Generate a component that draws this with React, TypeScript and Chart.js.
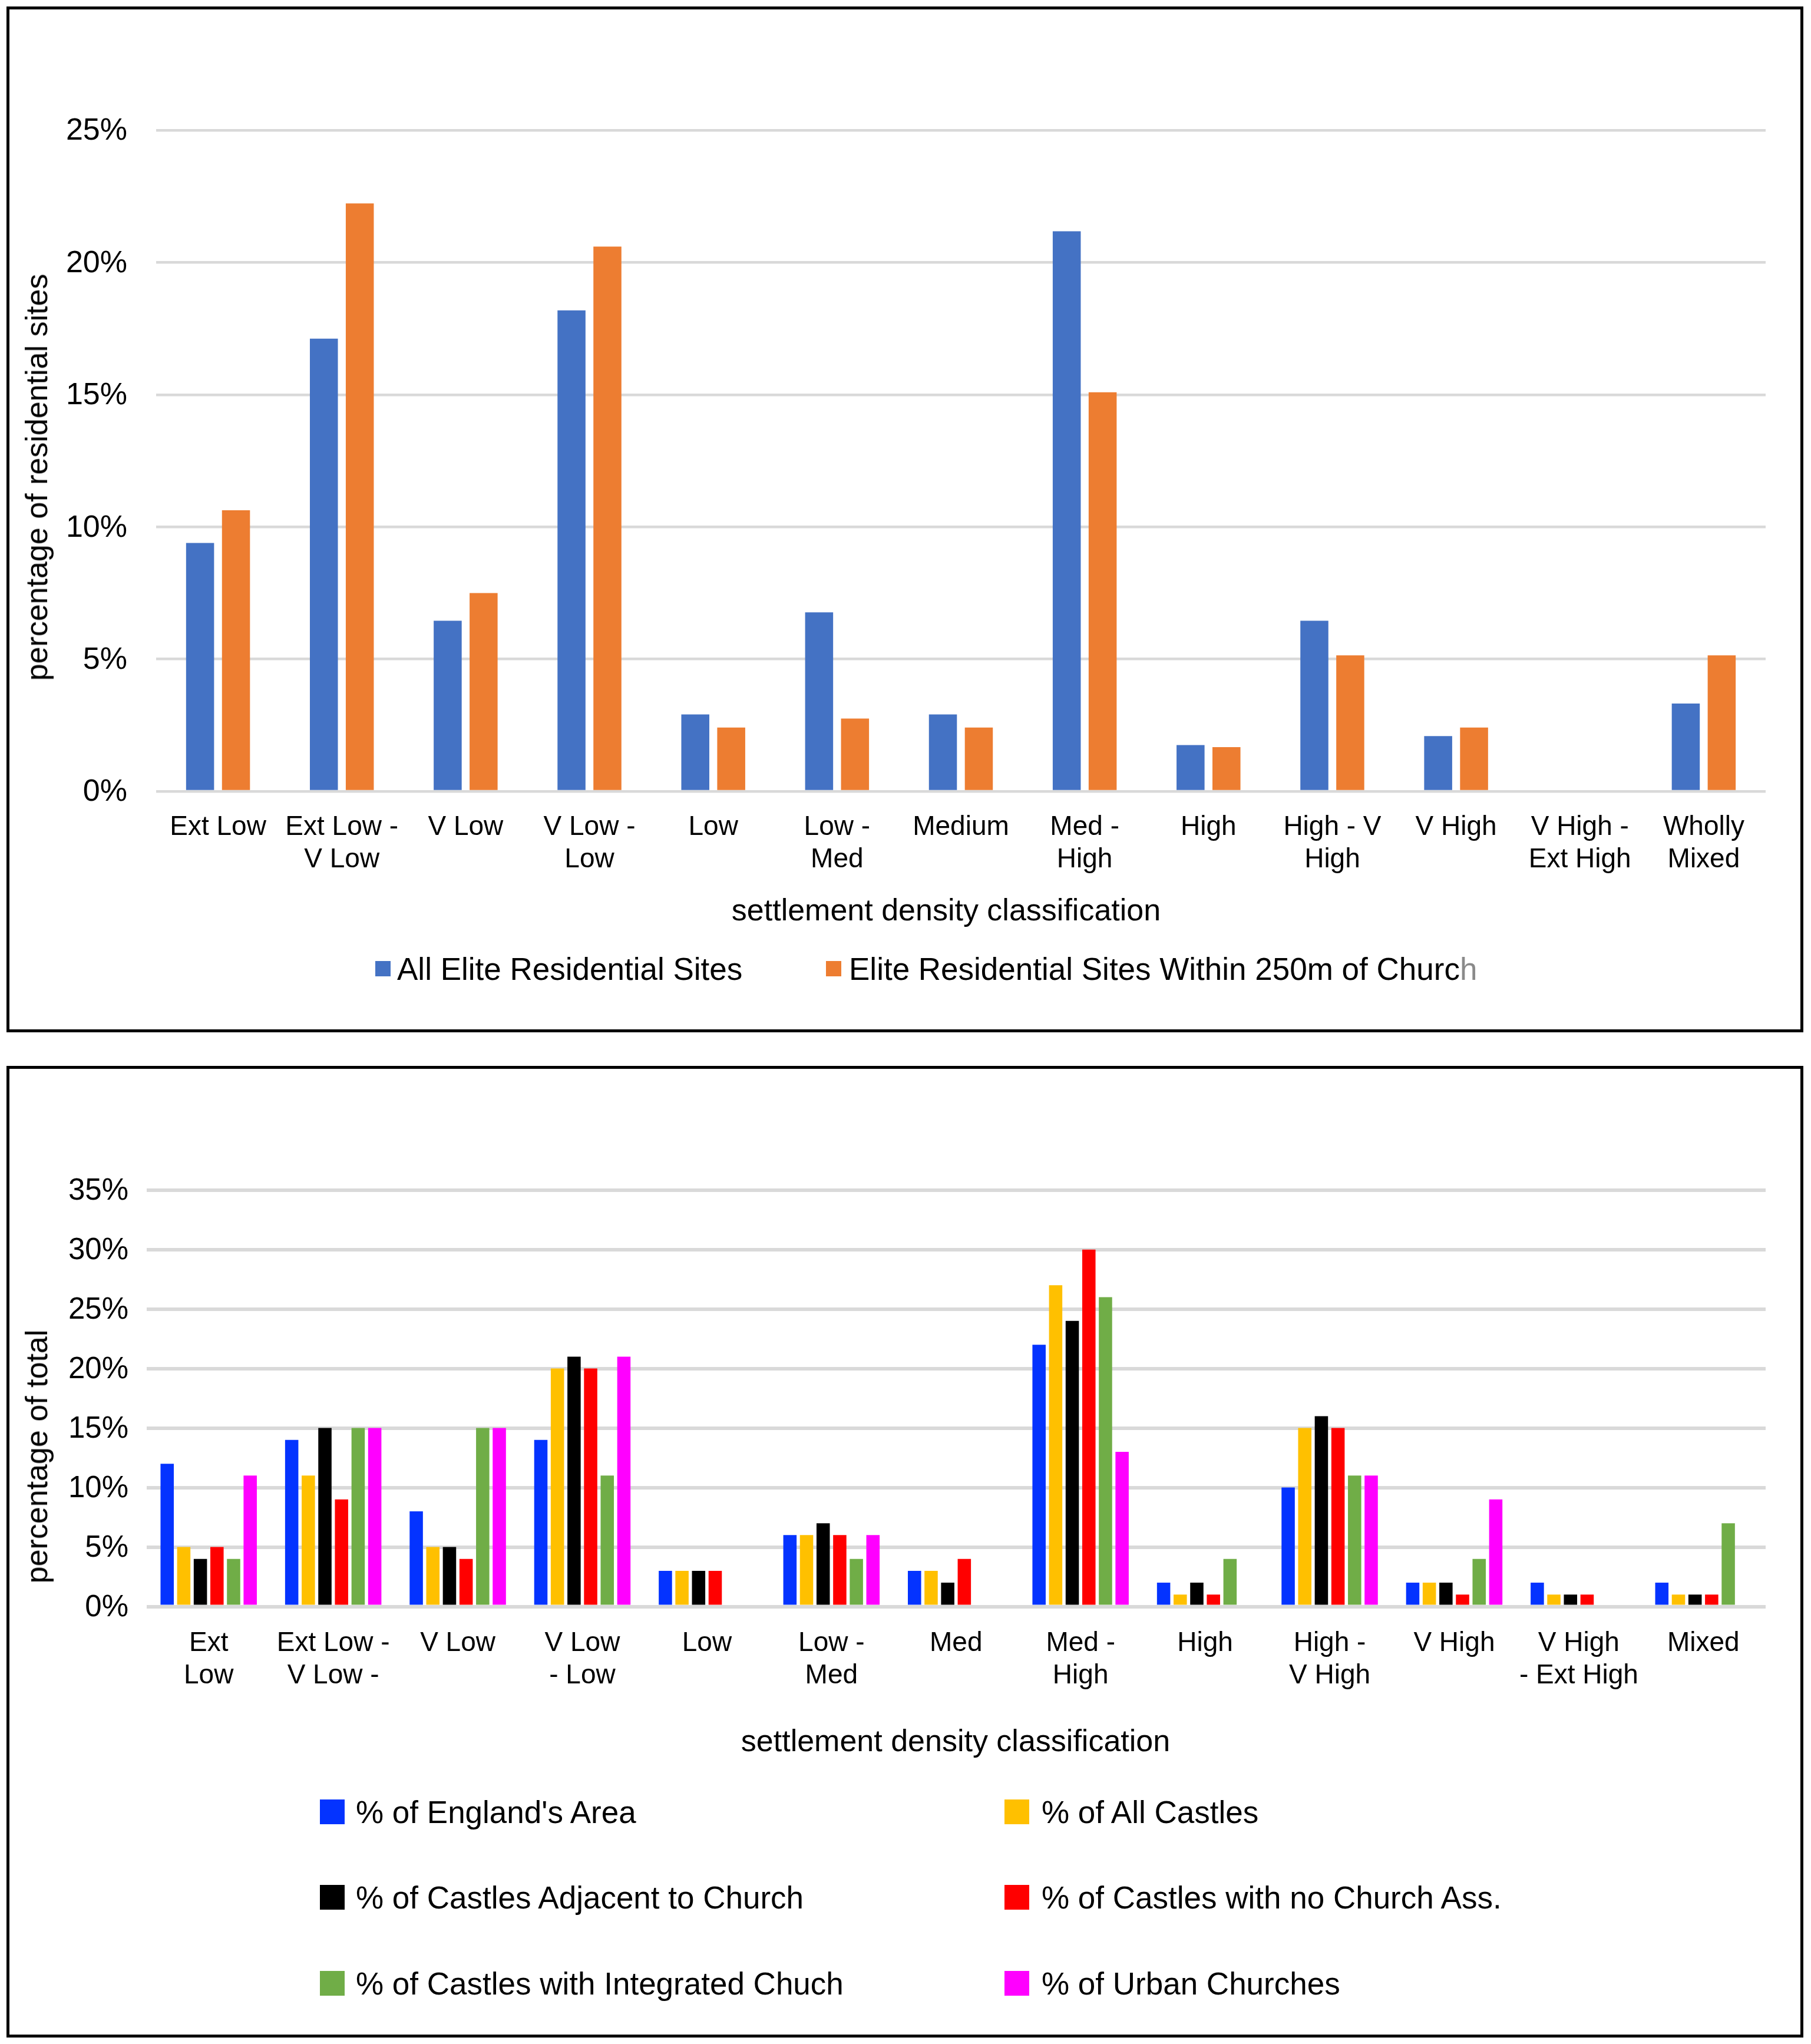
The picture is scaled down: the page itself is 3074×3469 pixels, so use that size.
import React, { useEffect, useRef } from "react";
import { Chart, registerables } from "chart.js";

Chart.register(...registerables);

const FONT = '"Liberation Sans", Arial, Helvetica, sans-serif';

// ---------- Top chart data ----------
const topCategories: (string | string[])[] = [
  "Ext Low",
  ["Ext Low -", "V Low"],
  "V Low",
  ["V Low -", "Low"],
  "Low",
  ["Low -", "Med"],
  "Medium",
  ["Med -", "High"],
  "High",
  ["High - V", "High"],
  "V High",
  ["V High -", "Ext High"],
  ["Wholly", "Mixed"],
];
const topSeriesNames = [
  "All Elite Residential Sites",
  "Elite Residential Sites Within 250m of Church",
];
const topColors = ["#4472C4", "#ED7D31"];
const allEliteSites = [9.39, 17.12, 6.45, 18.19, 2.91, 6.77, 2.91, 21.18, 1.75, 6.45, 2.09, 0, 3.32];
const eliteNearChurch = [10.63, 22.23, 7.5, 20.6, 2.41, 2.75, 2.41, 15.09, 1.67, 5.14, 2.41, 0, 5.14];
const topAxisMax = 25;
const topAxisStep = 5;

// ---------- Bottom chart data ----------
const bottomCategories: (string | string[])[] = [
  ["Ext", "Low"],
  ["Ext Low -", "V Low -"],
  "V Low",
  ["V Low", "- Low"],
  "Low",
  ["Low -", "Med"],
  "Med",
  ["Med -", "High"],
  "High",
  ["High -", "V High"],
  "V High",
  ["V High", "- Ext High"],
  "Mixed",
];
const bottomSeriesNames = [
  "% of England's Area",
  "% of All Castles",
  "% of Castles Adjacent to Church",
  "% of Castles with no Church Ass.",
  "% of Castles with Integrated Chuch",
  "% of Urban Churches",
];
const bottomColors = ["#0433FF", "#FFC000", "#000000", "#FF0000", "#70AD47", "#FF00FF"];
const englandArea = [12, 14, 8, 14, 3, 6, 3, 22, 2, 10, 2, 2, 2];
const allCastles = [5, 11, 5, 20, 3, 6, 3, 27, 1, 15, 2, 1, 1];
const castlesAdjacent = [4, 15, 5, 21, 3, 7, 2, 24, 2, 16, 2, 1, 1];
const castlesNoChurch = [5, 9, 4, 20, 3, 6, 4, 30, 1, 15, 1, 1, 1];
const castlesIntegrated = [4, 15, 15, 11, 0, 4, 0, 26, 4, 11, 4, 0, 7];
const urbanChurches = [11, 15, 15, 21, 0, 6, 0, 13, 0, 11, 9, 0, 0];
const bottomAxisMax = 35;
const bottomAxisStep = 5;

const topSeries = [allEliteSites, eliteNearChurch];
const bottomSeries = [
  englandArea,
  allCastles,
  castlesAdjacent,
  castlesNoChurch,
  castlesIntegrated,
  urbanChurches,
];

const pct = (v: any) => v + "%";

export default function App() {
  const topRef = useRef<HTMLCanvasElement>(null);
  const bottomRef = useRef<HTMLCanvasElement>(null);

  useEffect(() => {
    const c1 = new Chart(topRef.current as HTMLCanvasElement, {
      type: "bar",
      data: {
        labels: topCategories as any,
        datasets: topSeries.map((d, i) => ({
          label: topSeriesNames[i],
          data: d,
          backgroundColor: topColors[i],
          borderWidth: 0,
          categoryPercentage: 0.58,
          barPercentage: 0.78,
        })),
      },
      options: {
        responsive: false,
        animation: false,
        devicePixelRatio: 1,
        layout: { padding: { left: 0, right: 59, top: 205, bottom: 0 } },
        plugins: {
          legend: { display: false },
          tooltip: { enabled: false },
          title: { display: false },
        },
        scales: {
          x: {
            grid: { display: false },
            border: { display: false },
            ticks: {
              color: "#000",
              font: { family: FONT, size: 46, lineHeight: 1.2 },
              padding: 26,
              autoSkip: false,
              maxRotation: 0,
              minRotation: 0,
            },
            afterFit: (s: any) => {
              s.height = 404;
            },
          },
          y: {
            min: 0,
            max: topAxisMax,
            ticks: {
              stepSize: topAxisStep,
              color: "#000",
              font: { family: FONT, size: 52 },
              padding: 49,
              labelOffset: 2,
              callback: pct,
            },
            grid: { color: "#D9D9D9", lineWidth: 4.5, drawTicks: false },
            border: { display: false },
            afterFit: (s: any) => {
              s.width = 249;
            },
          },
        },
      } as any,
    });

    const c2 = new Chart(bottomRef.current as HTMLCanvasElement, {
      type: "bar",
      data: {
        labels: bottomCategories as any,
        datasets: bottomSeries.map((d, i) => ({
          label: bottomSeriesNames[i],
          data: d,
          backgroundColor: bottomColors[i],
          borderWidth: 0,
          categoryPercentage: 0.8,
          barPercentage: 0.8,
        })),
      },
      options: {
        responsive: false,
        animation: false,
        devicePixelRatio: 1,
        layout: { padding: { left: 0, right: 59, top: 205.7, bottom: 0 } },
        plugins: {
          legend: { display: false },
          tooltip: { enabled: false },
          title: { display: false },
        },
        scales: {
          x: {
            grid: { display: false },
            border: { display: false },
            ticks: {
              color: "#000",
              font: { family: FONT, size: 46, lineHeight: 1.18 },
              padding: 28,
              autoSkip: false,
              maxRotation: 0,
              minRotation: 0,
            },
            afterFit: (s: any) => {
              s.height = 726.5;
            },
          },
          y: {
            min: 0,
            max: bottomAxisMax,
            ticks: {
              stepSize: bottomAxisStep,
              color: "#000",
              font: { family: FONT, size: 51 },
              padding: 30.5,
              labelOffset: 2,
              callback: pct,
            },
            grid: { color: "#D9D9D9", lineWidth: 6, drawTicks: false },
            border: { display: false },
            afterFit: (s: any) => {
              s.width = 232.5;
            },
          },
        },
      } as any,
    });

    return () => {
      c1.destroy();
      c2.destroy();
    };
  }, []);

  const textBase: React.CSSProperties = {
    position: "absolute",
    fontFamily: FONT,
    color: "#000",
    whiteSpace: "nowrap",
  };

  const legendRows = [3075, 3220, 3366];
  const legendMarkerX = [543, 1705];
  const legendTextX = [604, 1768];

  return (
    <div
      style={{
        position: "absolute",
        left: 0,
        top: 0,
        width: 3074,
        height: 3469,
        background: "#fff",
        overflow: "hidden",
      }}
    >
      {/* Top box */}
      <div
        style={{
          position: "absolute",
          left: 11,
          top: 11,
          width: 3050,
          height: 1741,
          border: "5px solid #000",
          boxSizing: "border-box",
        }}
      />
      <canvas
        ref={topRef}
        width={3040}
        height={1731}
        style={{ position: "absolute", left: 16, top: 16, width: 3040, height: 1731 }}
      />
      {/* Top y title */}
      <div
        style={{
          ...textBase,
          left: 62,
          top: 810,
          fontSize: 52,
          lineHeight: "52px",
          transform: "translate(-50%, -50%) rotate(-90deg)",
        }}
      >
        percentage of residential sites
      </div>
      {/* Top x title */}
      <div
        style={{
          ...textBase,
          left: 1606,
          top: 1518,
          fontSize: 52,
          lineHeight: "52px",
          transform: "translateX(-50%)",
        }}
      >
        settlement density classification
      </div>
      {/* Top legend */}
      <div style={{ position: "absolute", left: 637, top: 1631, width: 26, height: 26, background: topColors[0] }} />
      <div style={{ ...textBase, left: 674, top: 1644 - 26.5, fontSize: 53, lineHeight: "53px" }}>
        {topSeriesNames[0]}
      </div>
      <div style={{ position: "absolute", left: 1402, top: 1631, width: 26, height: 26, background: topColors[1] }} />
      <div style={{ ...textBase, left: 1441, top: 1644 - 26.5, fontSize: 53, lineHeight: "53px" }}>
        {topSeriesNames[1].slice(0, -1)}
        <span style={{ color: "#8a8a8a" }}>{topSeriesNames[1].slice(-1)}</span>
      </div>

      {/* Bottom box */}
      <div
        style={{
          position: "absolute",
          left: 11,
          top: 1809,
          width: 3050,
          height: 1649,
          border: "5px solid #000",
          boxSizing: "border-box",
        }}
      />
      <canvas
        ref={bottomRef}
        width={3040}
        height={1639}
        style={{ position: "absolute", left: 16, top: 1814, width: 3040, height: 1639 }}
      />
      {/* Bottom y title */}
      <div
        style={{
          ...textBase,
          left: 62,
          top: 2472,
          fontSize: 52,
          lineHeight: "52px",
          transform: "translate(-50%, -50%) rotate(-90deg)",
        }}
      >
        percentage of total
      </div>
      {/* Bottom x title */}
      <div
        style={{
          ...textBase,
          left: 1622,
          top: 2928,
          fontSize: 52,
          lineHeight: "52px",
          transform: "translateX(-50%)",
        }}
      >
        settlement density classification
      </div>
      {/* Bottom legend: 3 rows x 2 columns */}
      {bottomSeriesNames.map((name, i) => {
        const row = Math.floor(i / 2);
        const col = i % 2;
        const cy = legendRows[row];
        return (
          <React.Fragment key={name}>
            <div
              style={{
                position: "absolute",
                left: legendMarkerX[col],
                top: cy - 21,
                width: 42,
                height: 42,
                background: bottomColors[i],
              }}
            />
            <div
              style={{
                ...textBase,
                left: legendTextX[col],
                top: cy - 26.5,
                fontSize: 53,
                lineHeight: "53px",
              }}
            >
              {name}
            </div>
          </React.Fragment>
        );
      })}
    </div>
  );
}
